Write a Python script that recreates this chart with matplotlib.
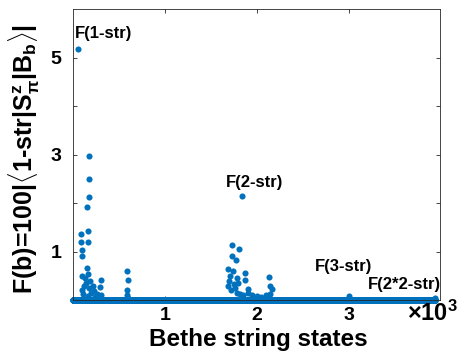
import numpy as np
import matplotlib.pyplot as plt

plt.rcParams['font.family'] = ['Liberation Sans', 'DejaVu Sans']
plt.rcParams['mathtext.fontset'] = 'custom'
plt.rcParams['mathtext.rm'] = 'Liberation Sans:bold'
plt.rcParams['mathtext.it'] = 'Liberation Sans:bold'
plt.rcParams['mathtext.bf'] = 'Liberation Sans:bold'

# number of Bethe string states (all sit on the baseline unless listed below)
n_states = 3943

# states with visible weight: index and F(b)
peak_idx = [55, 176, 176, 178, 152, 163, 87, 87, 160, 95, 95,
            149, 95, 167, 185, 302, 300, 221, 592, 602, 592, 140, 120, 200, 260, 310,
            100, 130, 180, 230, 270, 590, 600, 110, 160, 240,
            1837, 1728, 1805, 1728, 1776, 1692, 1874, 2135, 1710, 1874, 1750, 2164, 1906,
            1700, 1690, 1720, 1760, 1790, 1820, 1850, 1900, 1950, 2000, 2050, 2100, 2140,
            1740, 1780, 1800, 1960, 2020, 2140,
            2999, 3943]
peak_val = [5.18, 2.98, 2.50, 2.12, 1.91, 1.42, 1.36, 1.19, 1.19, 1.03, 0.90,
            0.66, 0.50, 0.54, 0.40, 0.42, 0.26, 0.30, 0.59, 0.42, 0.20, 0.35, 0.30, 0.15, 0.12, 0.10,
            0.20, 0.45, 0.25, 0.18, 0.08, 0.10, 0.05, 0.12, 0.08, 0.06,
            2.15, 1.14, 1.06, 0.90, 0.83, 0.64, 0.55, 0.47, 0.50, 0.42, 0.33, 0.23, 0.23,
            0.40, 0.30, 0.20, 0.25, 0.15, 0.12, 0.10, 0.15, 0.10, 0.08, 0.06, 0.10, 0.12,
            0.60, 0.45, 0.35, 0.05, 0.04, 0.30,
            0.09, 0.05]

labels = ['F(1-str)', 'F(2-str)', 'F(3-str)', 'F(2*2-str)']
label_x = [22, 1667, 2636, 3203]
label_y = [5.41, 2.34, 0.59, 0.22]

fig = plt.figure(figsize=(4.61, 3.51), dpi=100)
ax = fig.add_axes([0.158, 0.145, 0.796, 0.829])

color = '#0072BD'
base_x = np.arange(1, n_states + 1)
ax.plot(base_x, np.zeros(n_states), 'o', ms=4.4, color=color, mec='none', clip_on=False)
ax.plot(peak_idx, peak_val, 'o', ms=4.4, color=color, mec='none', clip_on=False)

for t, x, y in zip(labels, label_x, label_y):
    ax.text(x, y, t, fontsize=12, fontweight='bold', ha='left', va='baseline')

ax.set_xlim(0, 3990)
ax.set_ylim(0, 6)
ax.set_xticks([1000, 2000, 3000])
ax.set_xticklabels(['1', '2', '3'])
ax.set_yticks([1, 2, 3, 4, 5])
ax.set_yticklabels(['1', '', '3', '', '5'])
ax.tick_params(direction='in', top=True, right=True, labelsize=14, length=3,
               width=0.6, colors='#262626')
ax.tick_params(axis='x', pad=5)
ax.tick_params(axis='y', pad=8)
for lab in ax.get_xticklabels() + ax.get_yticklabels():
    lab.set_fontweight('bold')
    lab.set_color('black')
for s in ax.spines.values():
    s.set_linewidth(0.6)
    s.set_color('#262626')

fig.text(0.56, 0.014, 'Bethe string states', fontsize=17.5, fontweight='bold',
         ha='center', va='baseline')
fig.text(0.052, 0.547,
         r'F(b)=100$|\langle$1-str$|$S$^{\mathrm{z}}_{\pi}|$B$_{\mathrm{b}}\rangle|$',
         fontsize=18, fontweight='bold', rotation=90, ha='center', va='center')

fig.text(0.882, 0.085, r'$\times$10$^{3}$', fontsize=17, fontweight='bold', ha='left')

fig.savefig('out.png', dpi=100)
